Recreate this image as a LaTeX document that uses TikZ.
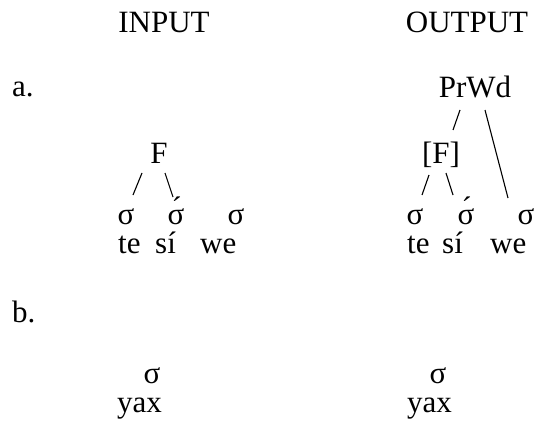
\documentclass[tikz,border=0pt]{standalone}
\usepackage{fontspec}
\setmainfont{Liberation Serif}
\usetikzlibrary{calc}

\newcommand{\sigacute}{σ\kern-0.12em\char"0301\kern0.12em}

\tikzset{
    word/.style={inner sep=0,anchor=base},
    syl/.style={inner sep=0,anchor=base west},
    branch/.style={line width=1.1pt},
}

\begin{document}
\begin{tikzpicture}[x=1pt,y=-1pt]
    \useasboundingbox (0,0) rectangle (535,425);
    \providecommand{\treefontsize}{\fontsize{31}{37}\selectfont}
    \treefontsize
    % column heads
    \node[word] (input) at (164,33) {INPUT};
    \node[word] (output) at (467,33) {OUTPUT};
    \node[syl] (a) at (12,97) {a.};
    \node[syl] (b) at (12,322) {b.};
    % a. input
    \node[word] (F) at (159,163) {F};
    \node[word] (s1) at (126,224) {σ};
    \node[word] (s2) at (176,224) {\sigacute};
    \node[word] (s3) at (236,224) {σ};
    \node[syl] (te) at (118,253) {te};
    \node[syl] (si) at (155,253) {sí};
    \node[syl] (we) at (200,253) {we};
    \draw[branch] ([shift={(-17,10)}]F.base) -- ([shift={(7,-29)}]s1.base);
    \draw[branch] ([shift={(6,10)}]F.base) -- ([shift={(-3,-27)}]s2.base);
    % a. output
    \node[word] (prwd) at (475,98) {PrWd};
    \node[word] (Fb) at (441,163) {[F]};
    \node[word] (r1) at (415,224) {σ};
    \node[word] (r2) at (466,224) {\sigacute};
    \node[word] (r3) at (526,224) {σ};
    \node[syl] (te2) at (407,253) {te};
    \node[syl] (si2) at (442,253) {sí};
    \node[syl] (we2) at (490,253) {we};
    \draw[branch] ([shift={(-15,12)}]prwd.base) -- ([shift={(12,-33)}]Fb.base);
    \draw[branch] ([shift={(10,12)}]prwd.base) -- ([shift={(-18,-26)}]r3.base);
    \draw[branch] ([shift={(-12,12)}]Fb.base) -- ([shift={(7,-29)}]r1.base);
    \draw[branch] ([shift={(5,10)}]Fb.base) -- ([shift={(-13,-29)}]r2.base);
    % b.
    \node[word] (bs) at (152,383) {σ};
    \node[syl] (yax) at (117,412) {yax};
    \node[word] (bs2) at (438,383) {σ};
    \node[syl] (yax2) at (407,412) {yax};
\end{tikzpicture}
\end{document}
